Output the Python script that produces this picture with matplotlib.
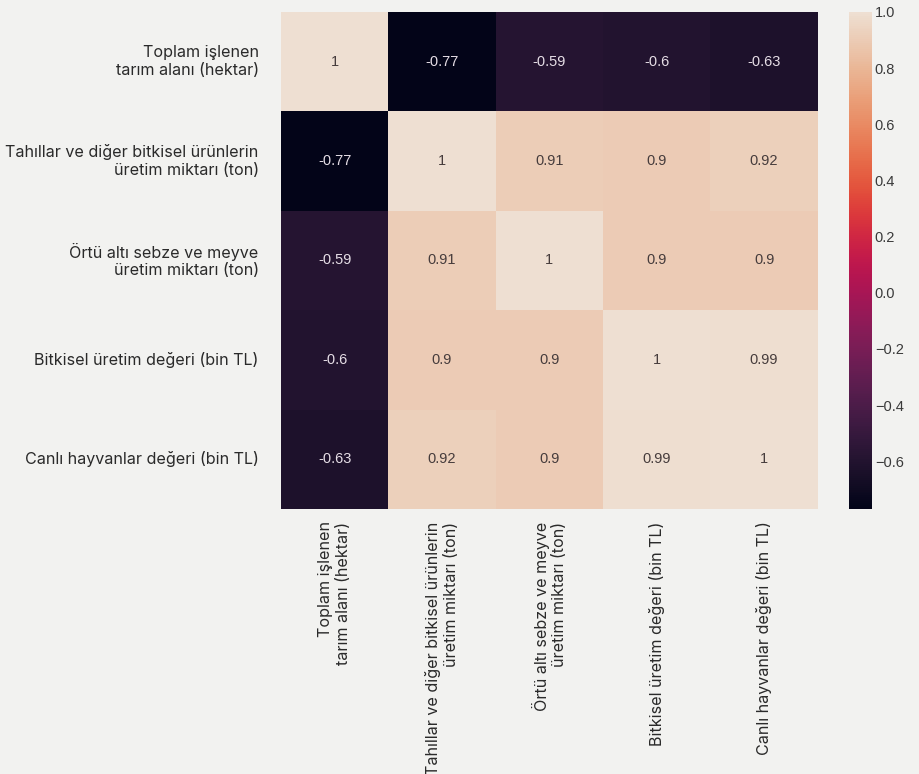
import numpy as np
import matplotlib.pyplot as plt
import seaborn as sns
from matplotlib.colors import ListedColormap

# Korelasyon matrisi
etiketler = [
    "Toplam işlenen\ntarım alanı (hektar)",
    "Tahıllar ve diğer bitkisel ürünlerin\nüretim miktarı (ton)",
    "Örtü altı sebze ve meyve\nüretim miktarı (ton)",
    "Bitkisel üretim değeri (bin TL)",
    "Canlı hayvanlar değeri (bin TL)",
]
satir1 = [1, -0.77, -0.59, -0.6, -0.63]
satir2 = [-0.77, 1, 0.91, 0.9, 0.92]
satir3 = [-0.59, 0.91, 1, 0.9, 0.9]
satir4 = [-0.6, 0.9, 0.9, 1, 0.99]
satir5 = [-0.63, 0.92, 0.9, 0.99, 1]
corr = np.array([satir1, satir2, satir3, satir4, satir5])

# rocket, biraz soluk
renkler = sns.color_palette('rocket', 256)
renkler = np.array(renkler) * 0.95
cmap = ListedColormap(renkler)

bg = '#f2f2f0'
fig = plt.figure(figsize=(9.2, 7.74), dpi=100, facecolor=bg)
ax = fig.add_axes([0.3054, 0.3424, 0.5835, 0.6421])
cax = fig.add_axes([0.9228, 0.3424, 0.025, 0.6421])

sns.heatmap(corr, annot=True, cmap=cmap, ax=ax, cbar_ax=cax,
            xticklabels=etiketler, yticklabels=etiketler,
            annot_kws={'fontsize': 10.5, 'family': 'Liberation Sans'})

for t in ax.texts:
    r, g, b, _ = plt.matplotlib.colors.to_rgba(t.get_color())
    t.set_color('#463c3c' if r < 0.5 else '#e6dee6')

ax.tick_params(axis='y', length=0, pad=16)
ax.tick_params(axis='x', length=0, pad=9)
plt.setp(ax.get_yticklabels(), rotation=0, ha='right', fontsize=11.6, family='Inter', color='#2a2a2a')
plt.setp(ax.get_xticklabels(), rotation=90, ha='center', va='top', multialignment='right',
         fontsize=11.6, family='Inter', color='#2a2a2a')
ax.set_facecolor(bg)

cax.set_yticks([-0.6, -0.4, -0.2, 0.0, 0.2, 0.4, 0.6, 0.8, 1.0])
cax.tick_params(length=0, labelsize=10.5, labelcolor='#3a3a3a', pad=2)
for t in cax.get_yticklabels():
    t.set_family('Liberation Sans')
ax.collections[0].colorbar.outline.set_visible(False)

fig.savefig('out.png', dpi=100, facecolor=bg)
